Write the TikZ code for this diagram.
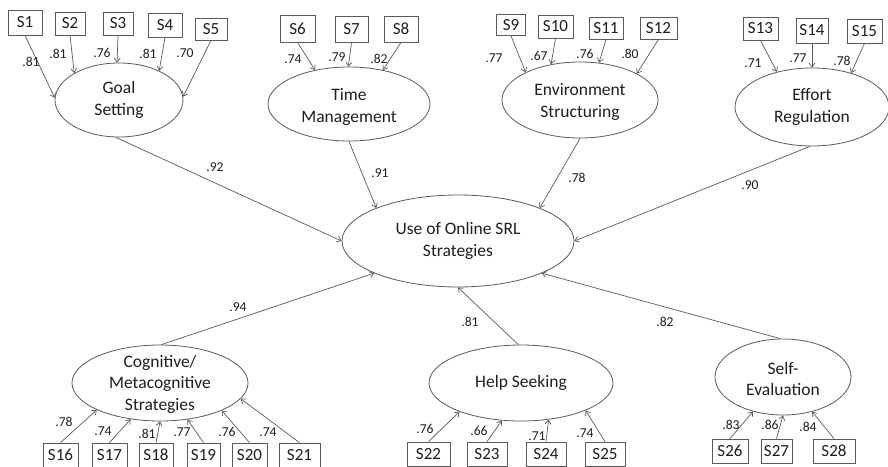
\documentclass[tikz,border=0pt]{standalone}
\usepackage{fontspec}
\setmainfont{Carlito}
\usetikzlibrary{shapes.geometric,arrows.meta}
\definecolor{ln}{HTML}{5A5A5A}
\definecolor{tx}{HTML}{1E1E1E}
\begin{document}
\begin{tikzpicture}[x=1pt,y=-1pt,
  obs/.style={draw=ln, line width=0.8pt, minimum height=24pt, minimum width=34pt, inner sep=0pt, font=\fontsize{17}{20}\selectfont, text=tx},
  lat/.style={draw=ln, line width=0.8pt, ellipse, inner sep=0pt},
  ltext/.style={inner sep=0pt, align=center, font=\fontsize{17.5}{21.5}\selectfont, text=tx},
  lbl/.style={inner sep=0pt, font=\fontsize{13.6}{15}\selectfont, text=tx},
  arr/.style={draw=ln, line width=0.7pt, -{Straight Barb[length=4pt,width=6pt]}}]
\useasboundingbox (0,0) rectangle (888,466);

% latent variables
\node[lat, minimum width=128pt, minimum height=74pt, label={[ltext]center:{Goal\\Setting}}] (gs) at (119,100) {};
\node[lat, minimum width=162pt, minimum height=74pt, label={[ltext,yshift=-3pt]center:{Time\\Management}}] (tm) at (349,104) {};
\node[lat, minimum width=156pt, minimum height=76pt, label={[ltext,yshift=-2pt]center:{Environment\\Structuring}}] (es) at (580,100) {};
\node[lat, minimum width=154pt, minimum height=78pt, label={[ltext]center:{Effort\\Regulation}}] (er) at (812,107) {};
\node[lat, minimum width=232pt, minimum height=92pt, label={[ltext]center:{Use of Online SRL\\Strategies}}] (srl) at (458,241) {};
\node[lat, minimum width=176pt, minimum height=76pt, label={[ltext,yshift=-1pt]center:{Cognitive/\\Metacognitive\\Strategies}}] (cog) at (160,383) {};
\node[lat, minimum width=184pt, minimum height=76pt, label={[ltext]center:{Help Seeking}}] (hs) at (521,383) {};
\node[lat, minimum width=136pt, minimum height=76pt, label={[ltext,yshift=-2pt]center:{Self-\\Evaluation}}] (se) at (783,377) {};

% top indicators
\node[obs, minimum width=34pt, minimum height=25pt] (s1) at (25,22.5) {S1};
\node[obs, minimum width=30pt, minimum height=23pt] (s2) at (70,23.5) {S2};
\node[obs, minimum width=30pt, minimum height=23pt] (s3) at (118,23.5) {S3};
\node[obs, minimum width=34pt, minimum height=24pt] (s4) at (165,25) {S4};
\node[obs, minimum width=32pt, minimum height=22pt] (s5) at (211,29) {S5};
\node[obs, minimum width=35pt, minimum height=27pt] (s6) at (297.5,28.5) {S6};
\node[obs, minimum width=33pt, minimum height=26pt] (s7) at (351.5,29) {S7};
\node[obs, minimum width=34pt, minimum height=26pt] (s8) at (401,29) {S8};
\node[obs, minimum width=29pt, minimum height=21pt] (s9) at (511,25) {S9};
\node[obs, minimum width=35pt, minimum height=23pt] (s10) at (555.5,26.5) {S10};
\node[obs, minimum width=34pt, minimum height=22pt] (s11) at (606,28) {S11};
\node[obs, minimum width=37pt, minimum height=22pt] (s12) at (658.5,28) {S12};
\node[obs, minimum width=35pt, minimum height=23pt] (s13) at (760.5,28.5) {S13};
\node[obs, minimum width=32pt, minimum height=25pt] (s14) at (812,30.5) {S14};
\node[obs, minimum width=35pt, minimum height=24pt] (s15) at (864.5,31) {S15};

% bottom indicators
\node[obs, minimum width=35pt] (s16) at (60.5,455) {S16};
\node[obs, minimum width=35pt] (s17) at (109.5,455) {S17};
\node[obs, minimum width=34pt] (s18) at (156,455) {S18};
\node[obs, minimum width=33pt] (s19) at (203.5,455) {S19};
\node[obs, minimum width=35pt] (s20) at (249.5,455) {S20};
\node[obs, minimum width=41pt] (s21) at (299.5,455) {S21};
\node[obs, minimum width=43pt] (s22) at (428.5,454) {S22};
\node[obs, minimum width=40pt] (s23) at (487,454) {S23};
\node[obs, minimum width=40pt] (s24) at (546,454) {S24};
\node[obs, minimum width=40pt] (s25) at (605,454) {S25};
\node[obs, minimum width=36pt] (s26) at (730,451) {S26};
\node[obs, minimum width=31pt] (s27) at (776.5,451) {S27};
\node[obs, minimum width=42pt] (s28) at (834,451) {S28};

% loadings top
\draw[arr] (s1.south) -- (gs.178);
\draw[arr] (s2.south) -- (gs.149);
\draw[arr] (s3.south) -- (gs.93);
\draw[arr] (s4.south) -- (gs.36);
\draw[arr] (s5.south) -- (gs.3);
\draw[arr] (s6.south) -- (tm.135);
\draw[arr] (s7.south) -- (tm.91);
\draw[arr] (s8.south) -- (tm.45);
\draw[arr] (s9.south) -- (es.153);
\draw[arr] (s10.south) -- (es.129);
\draw[arr] (s11.south) -- (es.63);
\draw[arr] (s12.south) -- (es.25);
\draw[arr] (s13.south) -- (er.135);
\draw[arr] (s14.south) -- (er.90);
\draw[arr] (s15.south) -- (er.41);

% loadings bottom
\draw[arr] (s16.north) -- (cog.203);
\draw[arr] (s17.north) -- (cog.231);
\draw[arr] (s18.north) -- (cog.270);
\draw[arr] (s19.north) -- (cog.307);
\draw[arr] (s20.north) -- (cog.336);
\draw[arr] (s21.north) -- (cog.349);
\draw[arr] (s22.north) -- (hs.205);
\draw[arr] (s23.north) -- (hs.243);
\draw[arr] (s24.north) -- (hs.307);
\draw[arr] (s25.north) -- (hs.337);
\draw[arr] (s26.north) -- (se.229);
\draw[arr] (s27.north) -- (se.270);
\draw[arr] (s28.north) -- (se.310);

% structural paths
\draw[arr] (gs.265) -- (srl.180);
\draw[arr] (tm.270) -- (srl.158);
\draw[arr] (es.270) -- (srl.22);
\draw[arr] (er.267) -- (srl.0);
\draw[arr] (cog.88) -- (srl.201);
\draw[arr] (hs.94) -- (srl.270);
\draw[arr] (se.94) -- (srl.339);

% labels top
\node[lbl] (l1) at (31,62) {.81};
\node[lbl] (l2) at (58,54) {.81};
\node[lbl] (l3) at (102,53) {.76};
\node[lbl] (l4) at (148,54) {.81};
\node[lbl] (l5) at (185,53) {.70};
\node[lbl] (l6) at (293,59) {.74};
\node[lbl] (l7) at (337,57) {.79};
\node[lbl] (l8) at (379,59) {.82};
\node[lbl] (l9) at (494,58) {.77};
\node[lbl] (l10) at (539,56) {.67};
\node[lbl] (l11) at (585,54) {.76};
\node[lbl] (l12) at (630,54) {.80};
\node[lbl] (l13) at (753,63) {.71};
\node[lbl] (l14) at (798,58) {.77};
\node[lbl] (l15) at (842,61) {.78};
% labels bottom
\node[lbl] (l16) at (64,422) {.78};
\node[lbl] (l17) at (103,431) {.74};
\node[lbl] (l18) at (147,434) {.81};
\node[lbl] (l19) at (182,432) {.77};
\node[lbl] (l20) at (227,432) {.76};
\node[lbl] (l21) at (268,432) {.74};
\node[lbl] (l22) at (425,429) {.76};
\node[lbl] (l23) at (479,431) {.66};
\node[lbl] (l24) at (537,436) {.71};
\node[lbl] (l25) at (585,433) {.74};
\node[lbl] (l26) at (731,425) {.83};
\node[lbl] (l27) at (770,425) {.86};
\node[lbl] (l28) at (808,427) {.84};
% structural labels
\node[lbl] (p1) at (215,167) {.92};
\node[lbl] (p2) at (380,173) {.91};
\node[lbl] (p3) at (577,178) {.78};
\node[lbl] (p4) at (750,185) {.90};
\node[lbl] (p5) at (238,307) {.94};
\node[lbl] (p6) at (470,322) {.81};
\node[lbl] (p7) at (665,322) {.82};
\end{tikzpicture}
\end{document}
